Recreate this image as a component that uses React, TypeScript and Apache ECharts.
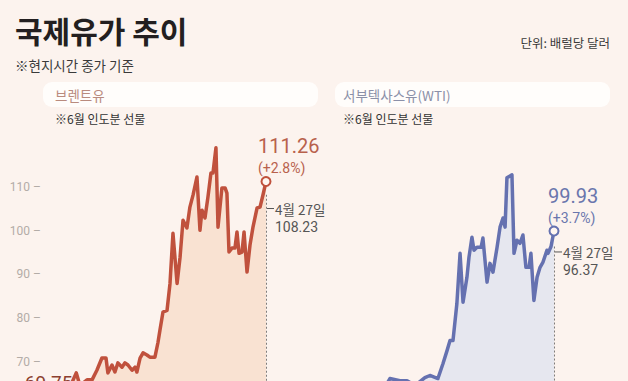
import React, { useEffect, useRef } from "react";
import * as echarts from "echarts";

// ---- Data ----
// x = trading-day index (0 = start of visible window, 100 = latest close)
const brentDays = [-5.5, -2, 0, 3.8, 6.5, 9.1, 11.8, 14, 15, 17.2, 18.8, 20.4, 22.6, 24.2, 25.8, 28, 29.6, 30.6, 32.3, 33.9, 36, 37.6, 40.3, 41.9, 43, 44.6, 46.8, 48.4, 50, 52.2, 53.8, 55.4, 57.5, 59.1, 60.8, 62.9, 64.5, 65.6, 67.2, 68.8, 70.4, 71.5, 73.1, 74.2, 76.3, 78, 79, 80.1, 81.7, 83.3, 84.4, 85.5, 87.1, 88.2, 89.8, 91.4, 93, 95.2, 96.8, 98.4, 100];
const brentPrices = [64.0, 67.4, 64.5, 65.8, 65.8, 68.0, 70.8, 70.8, 67.4, 69.2, 67.6, 69.7, 68.7, 69.7, 69.2, 68.0, 68.7, 67.6, 70.8, 72.0, 71.5, 71.0, 71.0, 74.3, 77.2, 81.3, 81.7, 87.9, 99.4, 87.9, 93.9, 102.4, 100.6, 105.4, 108.2, 112.3, 100.1, 104.7, 102.9, 107.7, 113.2, 113.2, 119.0, 100.8, 109.8, 109.8, 108.6, 95.1, 96.0, 96.0, 99.7, 94.8, 95.1, 99.7, 90.5, 96.7, 100.8, 105.2, 105.4, 108.23, 111.26];

const wtiDays = [-5.5, -2, 2, 6, 9, 11.8, 17.2, 21, 25.3, 30.6, 33.3, 37.6, 40.3, 42.5, 44.1, 45.7, 47.8, 49.5, 51.1, 53.2, 54.3, 55.9, 57, 58.6, 60.8, 61.8, 64, 65.6, 67.2, 69.4, 71, 72.6, 73.7, 74.7, 77.4, 78.5, 80.1, 81.7, 83.3, 84.9, 86.6, 87.6, 89.2, 90.9, 92.5, 94.1, 96.2, 96.8, 98.4, 100];
const wtiPrices = [63.0, 64.5, 63.5, 64.8, 64.0, 66.1, 65.6, 65.6, 64.5, 66.3, 66.8, 66.1, 69.5, 72.5, 74.8, 74.8, 83.3, 94.8, 83.6, 89.3, 93.9, 98.5, 95.5, 96.2, 96.2, 98.3, 88.2, 92.5, 90.5, 96.2, 100.8, 102.9, 100.8, 112.1, 112.8, 94.8, 97.8, 97.1, 99.0, 91.6, 91.6, 94.8, 84.0, 89.3, 91.6, 92.8, 95.5, 94.8, 96.37, 99.93];

const yTicks = [70, 80, 90, 100, 110];
const panelNames = ["브렌트유", "서부텍사스유(WTI)"];
const lastLabels = ["111.26", "99.93"];
const changeLabels = ["(+2.8%)", "(+3.7%)"];
const prevDateLabel = "4월 27일";
const prevLabels = ["108.23", "96.37"];
const startLabel = "69.75";
const pinDays = [86, 88.2];

const TITLE = "국제유가 추이";
const SUBTITLE = "※현지시간 종가 기준";
const UNIT = "단위: 배럴당 달러";
const NOTE = "※6월 인도분 선물";

const FONT = '"Noto Sans CJK KR", "Noto Sans", sans-serif';
const NUM_FONT = 'Roboto, "Noto Sans", sans-serif';
const BG = "#fcf3ee";
const RED = "#c0513d";
const RED_TXT = "#b8614c";
const BLUE = "#6571b0";
const BLUE_TXT = "#6a76ad";
const GRAY = "#555555";

echarts.graphic.registerShape(
  "dropPin",
  echarts.graphic.extendPath(
    "M0,0 C3,4 10,9 10,17 A10,10 0 0 1 -10,17 C-10,9 -3,4 0,0 Z",
    {}
  )
);

function txt(text: string, x: number, y: number, size: number, fill: string, opts: any = {}) {
  return {
    type: "text",
    x,
    y,
    silent: true,
    style: {
      text,
      fill,
      fontSize: size,
      fontFamily: opts.family || FONT,
      fontWeight: opts.weight || "normal",
      align: opts.align || "left",
      textAlign: opts.align || "left",
      verticalAlign: opts.va || "middle",
      textVerticalAlign: opts.va || "middle",
    },
  };
}

export default function App() {
  const ref = useRef<HTMLDivElement>(null);

  useEffect(() => {
    if (!ref.current) return;
    const chart = echarts.init(ref.current, null, { renderer: "svg" });

    const gridTop = 143.4;
    const gridH = 261.75;
    const gridW = 197.2;

    const mkSeries = (
      idx: number,
      days: number[],
      prices: number[],
      color: string,
      fill: string
    ) => {
      const lastT = days[days.length - 1];
      const prevV = prices[prices.length - 2];
      return {
        type: "line",
        xAxisIndex: idx,
        yAxisIndex: idx,
        data: days.map((d, i) => [d, prices[i]]),
        symbol: "none",
        lineStyle: { color, width: 3.5, join: "round" },
        areaStyle: { color: fill, opacity: 1 },
        z: 3,
        markLine: {
          silent: true,
          symbol: ["none", "none"],
          label: { show: false },
          lineStyle: { color: GRAY, type: [2, 2], width: 1.5 },
          data: [[{ coord: [lastT, prevV] }, { coord: [lastT, 60] }]],
          z: 2,
        },
        markPoint: {
          silent: true,
          symbol: "circle",
          symbolSize: 9,
          itemStyle: { color: "#fff6f0", borderColor: color, borderWidth: 2 },
          label: { show: false },
          data: [{ coord: [lastT, prices[prices.length - 1]] }],
        },
      };
    };

    const yAxisBase = (idx: number, showLabel: boolean) => ({
      type: "value",
      gridIndex: idx,
      min: 60,
      max: 120,
      interval: 10,
      axisLine: { show: false },
      axisTick: { show: false },
      splitLine: { show: false },
      axisLabel: {
        show: showLabel,
        margin: 28,
        color: "#b3aca7",
        fontSize: 12,
        fontFamily: NUM_FONT,
        formatter: (v: number) => (yTicks.includes(v) ? `${v} –` : ""),
      },
    });

    const xAxisBase = (idx: number) => ({
      type: "value",
      gridIndex: idx,
      min: -6,
      max: 100,
      show: false,
    });

    chart.setOption({
      animation: false,
      backgroundColor: BG,
      grid: [
        { left: 68.8, top: gridTop, width: gridW, height: gridH },
        { left: 356.8, top: gridTop, width: gridW, height: gridH },
      ],
      xAxis: [xAxisBase(0), xAxisBase(1)],
      yAxis: [yAxisBase(0, true), yAxisBase(1, false)],
      series: [
        mkSeries(0, brentDays, brentPrices, RED, "#f9e2d2"),
        mkSeries(1, wtiDays, wtiPrices, BLUE, "#e6e7ef"),
      ],
    });

    const ends = [
      chart.convertToPixel({ gridIndex: 0 }, [brentDays[brentDays.length - 1], brentPrices[brentPrices.length - 1]]) as number[],
      chart.convertToPixel({ gridIndex: 1 }, [wtiDays[wtiDays.length - 1], wtiPrices[wtiPrices.length - 1]]) as number[],
    ];
    const pinX = [
      (chart.convertToPixel({ gridIndex: 0 }, [pinDays[0], 70]) as number[])[0],
      (chart.convertToPixel({ gridIndex: 1 }, [pinDays[1], 70]) as number[])[0],
    ];
    const startPx = chart.convertToPixel({ gridIndex: 0 }, [brentDays[0], brentPrices[0]]) as number[];

    const mainColors = [RED_TXT, BLUE_TXT];
    const offs = [
      { big: -36, chg: -14, date: 27, prev: 45 },
      { big: -35, chg: -13, date: 21, prev: 39 },
    ];

    const graphic: any[] = [
      txt(TITLE, 15, 30, 30, "#231f20", { weight: "bold" }),
      txt(SUBTITLE, 15, 65, 13.5, "#3a3a3a"),
      txt(UNIT, 610, 42.5, 12.5, "#3a3a3a", { align: "right" }),
      { type: "rect", silent: true, shape: { x: 43, y: 82, width: 275, height: 25, r: 9 }, style: { fill: "#fffdfb" } },
      { type: "rect", silent: true, shape: { x: 335, y: 82, width: 275, height: 25, r: 9 }, style: { fill: "#fffdfb" } },
      txt(panelNames[0], 55, 95, 13.5, "#b98b7e"),
      txt(panelNames[1], 343, 95, 13.5, "#8b90a8"),
      txt(NOTE, 55, 118, 12, "#333333"),
      txt(NOTE, 343, 118, 12, "#333333"),
      { type: "dropPin", silent: true, x: pinX[0], y: 367, style: { fill: "#efb9a8" } },
      { type: "dropPin", silent: true, x: pinX[1], y: 367, style: { fill: "#c7cadf" } },
      txt(startLabel, startPx[0] - 45, 373, 19, "#8c3f30", { va: "top", family: NUM_FONT }),
    ];

    ends.forEach((p, i) => {
      const o = offs[i];
      const left = Math.round(p[0]) - (i === 0 ? 8 : 6);
      graphic.push(txt(lastLabels[i], left, p[1] + o.big, 20, mainColors[i], { family: NUM_FONT }));
      graphic.push(txt(changeLabels[i], left, p[1] + o.chg, 14, mainColors[i], { family: NUM_FONT }));
      graphic.push({
        type: "line",
        silent: true,
        shape: { x1: p[0] + 1, y1: p[1] + o.date, x2: p[0] + 8, y2: p[1] + o.date },
        style: { stroke: GRAY, lineWidth: 1 },
      });
      graphic.push(txt(prevDateLabel, p[0] + 9, p[1] + o.date, 13.5, GRAY));
      graphic.push(txt(prevLabels[i], p[0] + 9, p[1] + o.prev, 14, GRAY, { family: NUM_FONT }));
    });

    chart.setOption({ graphic });

    return () => chart.dispose();
  }, []);

  return (
    <div
      style={{
        position: "fixed",
        left: 0,
        top: 0,
        width: 628,
        height: 381,
        overflow: "hidden",
        background: BG,
      }}
    >
      <div ref={ref} style={{ position: "absolute", left: 0, top: 0, width: 628, height: 420 }} />
    </div>
  );
}
